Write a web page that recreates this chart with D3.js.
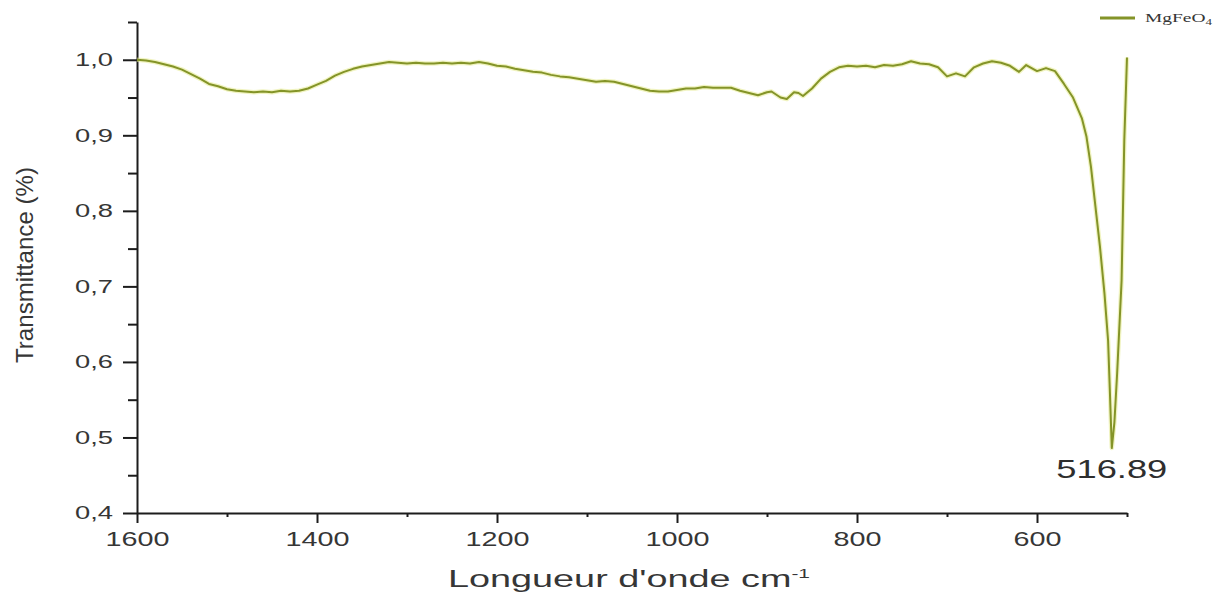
<!DOCTYPE html>
<html>
<head>
<meta charset="utf-8">
<script src="https://cdn.jsdelivr.net/npm/d3@7/dist/d3.min.js"></script>
<style>
    body { margin: 0; background: #fff; }
    text { font-family: "Liberation Sans", Arial, sans-serif; fill: #363636; }
</style>
</head>
<body>
<div id="chart"></div>
<script>
// FTIR spectrum
var wavenumber = [1600, 1590, 1580, 1570, 1560, 1550, 1540, 1530, 1520, 1510, 1500, 1490, 1480, 1470, 1460, 1450, 1440, 1430, 1420, 1410,
    1400, 1390, 1380, 1370, 1360, 1350, 1340, 1330, 1320, 1310, 1300, 1290, 1280, 1270, 1260, 1250, 1240, 1230, 1220, 1210,
    1200, 1190, 1180, 1170, 1160, 1150, 1140, 1130, 1120, 1110, 1100, 1090, 1080, 1070, 1060, 1050, 1040, 1030, 1020, 1010,
    1000, 990, 980, 970, 960, 950, 940, 930, 920, 910, 900, 895, 885, 878, 870, 865, 860, 850, 840, 830,
    820, 810, 800, 790, 780, 770, 760, 750, 740, 730, 720, 710, 700, 690, 680, 670, 660, 650, 640, 630,
    620, 612, 600, 590, 580, 570, 560, 550, 545, 540, 535, 530, 525, 521, 519, 516.89, 514, 511, 506, 503, 500];
var transmittance = [1.000, 0.999, 0.997, 0.994, 0.991, 0.987, 0.981, 0.975, 0.968, 0.965, 0.961, 0.959, 0.958, 0.957, 0.958, 0.957, 0.959, 0.958, 0.959, 0.962,
    0.967, 0.972, 0.979, 0.984, 0.988, 0.991, 0.993, 0.995, 0.997, 0.996, 0.995, 0.996, 0.995, 0.995, 0.996, 0.995, 0.996, 0.995, 0.997, 0.995,
    0.992, 0.991, 0.988, 0.986, 0.984, 0.983, 0.980, 0.978, 0.977, 0.975, 0.973, 0.971, 0.972, 0.971, 0.968, 0.965, 0.962, 0.959, 0.958, 0.958,
    0.960, 0.962, 0.962, 0.964, 0.963, 0.963, 0.963, 0.959, 0.956, 0.953, 0.957, 0.958, 0.950, 0.948, 0.957, 0.956, 0.952, 0.962, 0.975, 0.984,
    0.990, 0.992, 0.991, 0.992, 0.990, 0.993, 0.992, 0.994, 0.998, 0.995, 0.994, 0.990, 0.978, 0.982, 0.978, 0.990, 0.995, 0.998, 0.996, 0.992,
    0.984, 0.993, 0.985, 0.989, 0.985, 0.968, 0.950, 0.922, 0.898, 0.858, 0.805, 0.752, 0.690, 0.628, 0.560, 0.486, 0.520, 0.584, 0.708, 0.894, 1.003];

var xTicks = [1600, 1400, 1200, 1000, 800, 600];
var xMinorTicks = [1500, 1300, 1100, 900, 700, 500];
var yTicks = [0.4, 0.5, 0.6, 0.7, 0.8, 0.9, 1.0];
var yMinorTicks = [0.45, 0.55, 0.65, 0.75, 0.85, 0.95, 1.05];

var peakPosition = 516.89;
var peakLabel = "516.89";
var seriesName = "MgFeO";

var width = 1216, height = 593;
var plotLeft = 137, plotRight = 1127, plotTop = 22, plotBottom = 513;

var svg = d3.select("#chart").append("svg").attr("width", width).attr("height", height);

var x = d3.scaleLinear().domain([1600, 500]).range([plotLeft, plotRight]);
var y = d3.scaleLinear().domain([0.4, 1.05]).range([plotBottom, plotTop]);

var points = wavenumber.map(function(w, i) { return [w, transmittance[i]]; });

// y axis, major then minor
var yAxis = svg.append("g").attr("transform", "translate(" + plotLeft + ",0)")
    .call(d3.axisLeft(y).tickValues(yTicks).tickSize(14).tickSizeOuter(0).tickPadding(10)
        .tickFormat(function(d) { return d.toFixed(1).replace(".", ","); }));
yAxis.selectAll("text").style("font-size", "18.5px").attr("textLength", 38).attr("lengthAdjust", "spacingAndGlyphs");

svg.append("g").attr("transform", "translate(" + plotLeft + ",0)")
    .call(d3.axisLeft(y).tickValues(yMinorTicks).tickSize(9).tickFormat(""))
    .select(".domain").remove();

// x axis
var xAxis = svg.append("g").attr("transform", "translate(0," + plotBottom + ")")
    .call(d3.axisBottom(x).tickValues(xTicks).tickSize(10).tickSizeOuter(0).tickPadding(8)
        .tickFormat(d3.format("d")));
xAxis.selectAll("text").style("font-size", "21px")
    .attr("textLength", function(d) { return String(d).length * 16; })
    .attr("lengthAdjust", "spacingAndGlyphs");

svg.append("g").attr("transform", "translate(0," + plotBottom + ")")
    .call(d3.axisBottom(x).tickValues(xMinorTicks).tickSize(4).tickFormat(""))
    .select(".domain").remove();

svg.selectAll(".domain, .tick line").attr("stroke", "#1c1c1c").attr("stroke-width", 2);

// axis titles
var xTitle = svg.append("text").attr("x", 448).attr("y", 587)
    .style("font-size", "23.5px").attr("textLength", 362).attr("lengthAdjust", "spacingAndGlyphs");
xTitle.append("tspan").text("Longueur d'onde cm");
xTitle.append("tspan").attr("dy", -9).style("font-size", "13px").text("-1");

svg.append("text").attr("transform", "translate(33,265) rotate(-90)")
    .attr("text-anchor", "middle").style("font-size", "24px")
    .attr("textLength", 196).attr("lengthAdjust", "spacingAndGlyphs")
    .text("Transmittance (%)");

// spectrum
var line = d3.line().x(function(d) { return x(d[0]); }).y(function(d) { return y(d[1]); });

svg.append("path").datum(points).attr("d", line)
    .attr("fill", "none").attr("stroke", "#e4e98c").attr("stroke-width", 4.5)
    .attr("stroke-opacity", 0.55).attr("stroke-linejoin", "round");
svg.append("path").datum(points).attr("d", line)
    .attr("fill", "none").attr("stroke", "#849428").attr("stroke-width", 2)
    .attr("stroke-linejoin", "round");

// peak annotation
var peakValue = d3.min(transmittance);
svg.append("text").attr("x", x(peakPosition)).attr("y", y(peakValue) + 30)
    .attr("text-anchor", "middle").style("font-size", "25px").style("fill", "#2e2e2e")
    .attr("textLength", 111).attr("lengthAdjust", "spacingAndGlyphs")
    .text(peakLabel);

// legend
svg.append("line").attr("x1", 1100).attr("x2", 1135).attr("y1", 18).attr("y2", 18)
    .attr("stroke", "#849428").attr("stroke-width", 3);
var legendText = svg.append("text").attr("x", 1145).attr("y", 22)
    .style("font-family", "'Liberation Serif', 'Times New Roman', serif").style("font-size", "13.5px")
    .attr("textLength", 67).attr("lengthAdjust", "spacingAndGlyphs");
legendText.append("tspan").text(seriesName);
legendText.append("tspan").attr("dy", 3).style("font-size", "9px").text("4");
</script>
</body>
</html>
